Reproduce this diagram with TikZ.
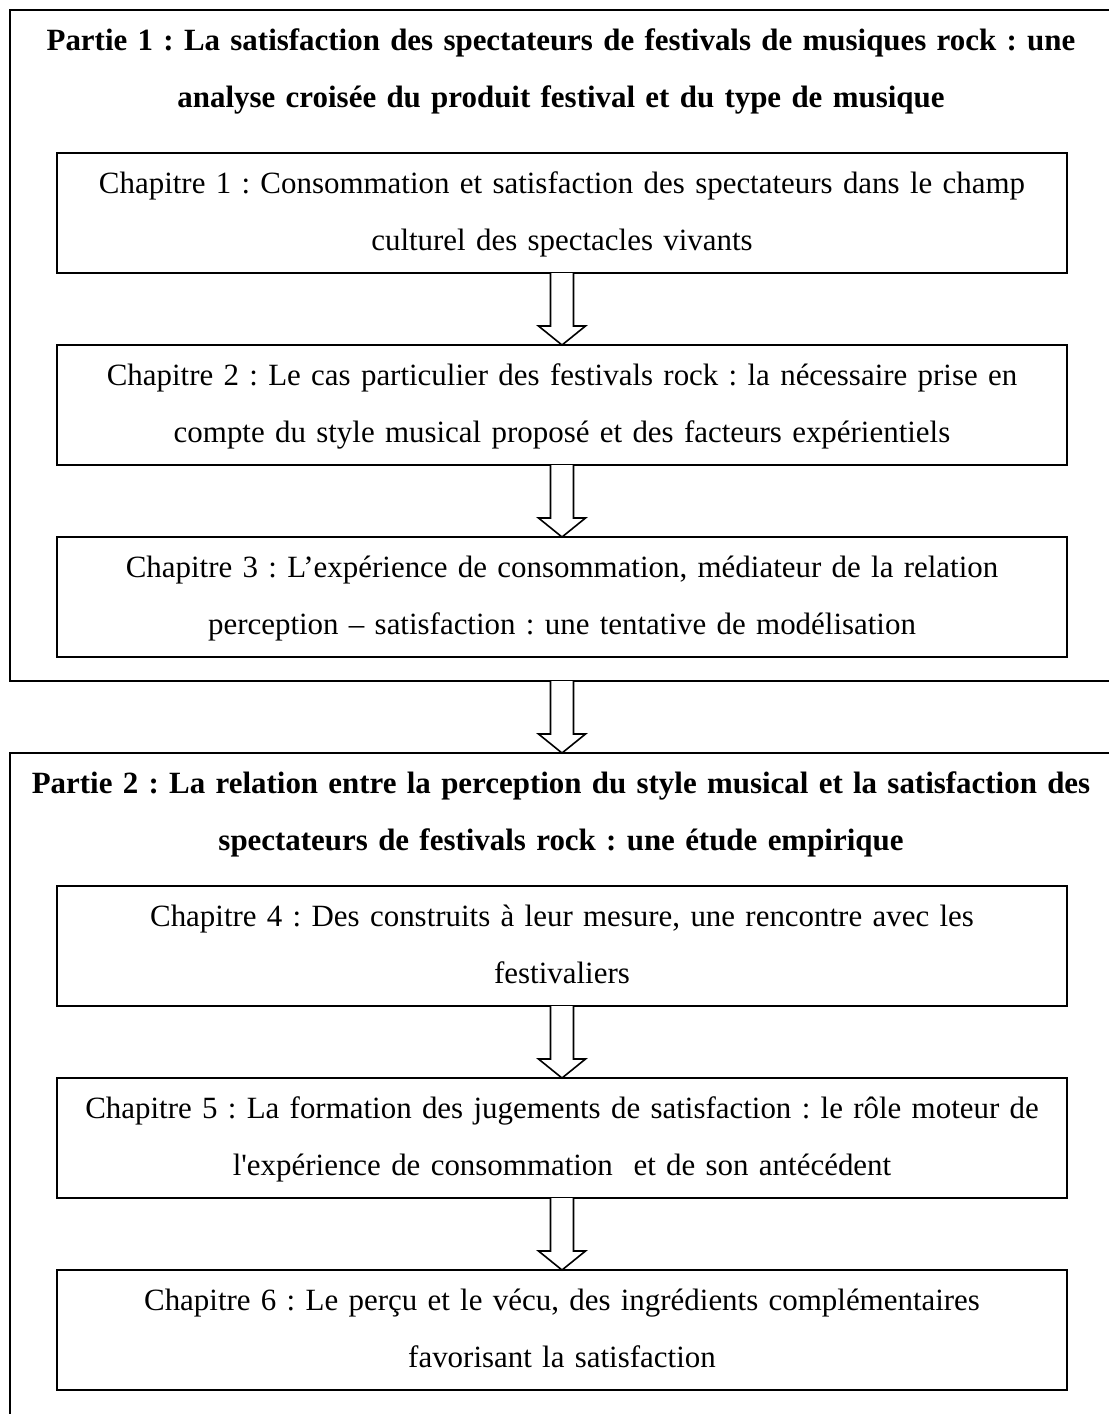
\documentclass[tikz,border=0pt]{standalone}
\usepackage{fontspec}
\setmainfont{Liberation Serif}[Ligatures=TeXOff]
\usetikzlibrary{calc}
\tikzset{
  box/.style={draw=black, line width=1.4pt, rectangle, inner sep=0pt, outer sep=0pt},
  chbox/.style={box, minimum width=757.5pt, minimum height=90pt},
  txt/.style={anchor=base, align=center, text width=900pt, inner sep=0pt,
    font=\fontsize{23.2}{42.75}\selectfont\frenchspacing},
  btxt/.style={txt, font=\fontsize{23.2}{42.75}\selectfont\frenchspacing\bfseries},
  harrowstyle/.style={draw=black, line width=1.2pt, fill=white, line join=miter}
}
\newcommand\harrow[2]{%
  \draw[harrowstyle] ($(#1)+(-11.5,0)$) -- ($(#2)+(-11.5,-19)$) -- ++(-12,0) -- (#2)
    -- ($(#2)+(23.5,-19)$) -- ++(-12,0) -- ($(#1)+(11.5,0)$);}
\begin{document}
\begin{tikzpicture}[x=0.75pt,y=-0.75pt]
\useasboundingbox (0,0) rectangle (1109,1414);
% Partie 1
\node[box, minimum width=832.5pt, minimum height=503.25pt] (p1) at (565,345.5) {};
\node[btxt] (p1t) at (561,50) {Partie 1 : La satisfaction des spectateurs de festivals de musiques rock : une\\analyse croisée du produit festival et du type de musique};
\node[chbox] (c1) at (562,213) {};
\node[txt] (c1t) at (562,193) {Chapitre 1 : Consommation et satisfaction des spectateurs dans le champ\\culturel des spectacles vivants};
\node[chbox] (c2) at (562,405) {};
\node[txt] (c2t) at (562,385) {Chapitre 2 : Le cas particulier des festivals rock : la nécessaire prise en\\compte du style musical proposé et des facteurs expérientiels};
\node[chbox] (c3) at (562,597) {};
\node[txt] (c3t) at (562,577) {Chapitre 3 : L’expérience de consommation, médiateur de la relation\\perception – satisfaction : une tentative de modélisation};
% Partie 2
\node[box, minimum width=832.5pt, minimum height=507.75pt] (p2) at (565,1091.5) {};
\node[btxt] (p2t) at (561,793) {Partie 2 : La relation entre la perception du style musical et la satisfaction des\\spectateurs de festivals rock : une étude empirique};
\node[chbox] (c4) at (562,946) {};
\node[txt] (c4t) at (562,926) {Chapitre 4 : Des construits à leur mesure, une rencontre avec les\\festivaliers};
\node[chbox] (c5) at (562,1138) {};
\node[txt] (c5t) at (562,1118) {Chapitre 5 : La formation des jugements de satisfaction : le rôle moteur de\\l'expérience de consommation \ et de son antécédent};
\node[chbox] (c6) at (562,1330) {};
\node[txt] (c6t) at (562,1310) {Chapitre 6 : Le perçu et le vécu, des ingrédients complémentaires\\favorisant la satisfaction};
% arrows
\coordinate (a0) at (p1.south -| c3.south);
\coordinate (b0) at (p2.north -| c4.north);
\harrow{c1.south}{c2.north}
\harrow{c2.south}{c3.north}
\harrow{a0}{b0}
\harrow{c4.south}{c5.north}
\harrow{c5.south}{c6.north}
\end{tikzpicture}
\end{document}
